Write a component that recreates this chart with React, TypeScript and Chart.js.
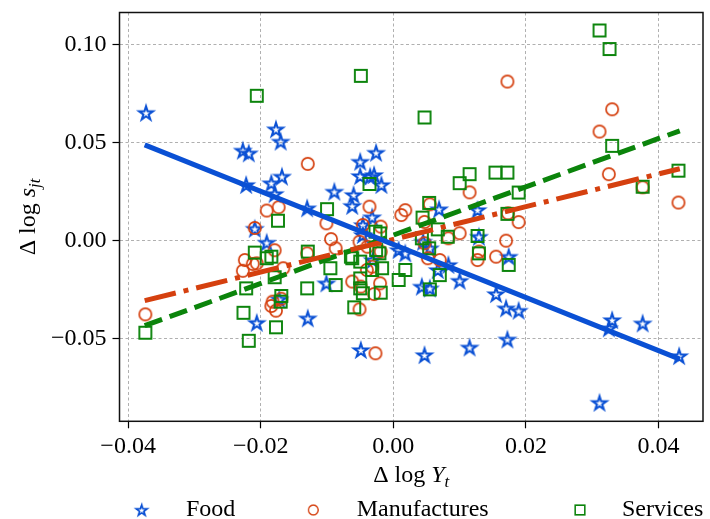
import React, { useEffect, useRef } from 'react';
import { Chart, registerables } from 'chart.js';

Chart.register(...registerables);

// ---------- data ----------
const seriesNames = ['Food', 'Manufactures', 'Services'];
const xTicks = [-0.04, -0.02, 0, 0.02, 0.04];
const yTicks = [-0.05, 0, 0.05, 0.1];
const xRange = [-0.0413, 0.0467];
const yRange = [-0.0925, 0.1166];

const foodX = [-0.0373, -0.0227, -0.0218, -0.0177, -0.017, -0.0222, -0.0184, -0.0168, -0.0179, -0.013, -0.0209, -0.0191, -0.0172, -0.0206, -0.0129, -0.0101, -0.0026, -0.005, -0.005, -0.0035, -0.0029, -0.0018, -0.0089, -0.006, -0.0062, -0.0032, -0.0046, -0.0046, 0.0008, 0.0018, -0.0031, 0.0043, 0.0055, 0.0055, 0.0045, 0.0069, 0.0127, 0.0129, 0.0067, 0.0083, 0.01, 0.0155, -0.0049, 0.0047, 0.0115, 0.0174, 0.017, 0.0189, 0.0172, 0.033, 0.0325, 0.0376, 0.0431, 0.0311];
const foodY = [0.0653, 0.046, 0.0446, 0.0569, 0.0506, 0.0284, 0.0293, 0.0327, 0.0238, 0.0165, 0.006, -0.0011, -0.0301, -0.0421, -0.0398, -0.0219, 0.0449, 0.0403, 0.033, 0.0327, 0.0335, 0.0284, 0.025, 0.0233, 0.0177, 0.0119, 0.0079, 0.0028, -0.0049, -0.0066, -0.01, -0.0236, -0.0245, -0.004, -0.0006, 0.016, 0.0156, 0.0019, -0.0151, -0.0125, -0.0206, -0.0274, -0.056, -0.0586, -0.0547, -0.0083, -0.0347, -0.0359, -0.0506, -0.0407, -0.0449, -0.0424, -0.0591, -0.083];

const manuX = [-0.0374, -0.0129, -0.0191, -0.0173, -0.0209, -0.0101, -0.0036, -0.0019, 0.0012, 0.0018, 0.0055, 0.0047, 0.0115, 0.0172, 0.033, 0.0311, 0.0325, 0.0376, 0.043, 0.0173, 0.0189, -0.0224, -0.0212, -0.0227, -0.0206, -0.0179, -0.0184, -0.0177, -0.0169, -0.0166, -0.013, -0.0094, -0.0087, -0.0062, -0.0051, -0.0027, -0.002, -0.0029, 0.01, 0.0127, 0.0155, 0.017, -0.0051, -0.0039, -0.0019, -0.0032, -0.004, -0.0049, 0.0083, 0.0047, 0.0129, 0.007, 0.0052, -0.0046, -0.0182];
const manuY = [-0.0378, 0.0392, 0.0153, 0.017, 0.0064, 0.0088, 0.0173, 0.0071, 0.013, 0.0155, 0.0185, 0.0095, 0.0246, 0.0813, 0.0671, 0.0557, 0.0339, 0.0272, 0.0194, 0.0139, 0.0094, -0.01, -0.012, -0.0155, -0.0117, -0.005, -0.0335, -0.0359, -0.0298, -0.0142, -0.0066, 0.0007, -0.004, -0.021, -0.0352, -0.0577, -0.0219, -0.0274, 0.0037, -0.01, -0.0083, -0.0001, -0.0006, -0.0032, -0.0057, -0.0134, -0.0151, -0.0236, 0.0011, -0.0014, -0.0057, -0.01, -0.0091, 0.0079, -0.0313];

const servX = [-0.0206, -0.0174, -0.0049, 0.0047, -0.0036, -0.01, 0.0054, 0.0044, 0.01, 0.0115, 0.0154, 0.0311, 0.0326, 0.033, 0.0172, 0.0189, 0.0376, 0.043, 0.0172, -0.0374, -0.0218, -0.0226, -0.0222, -0.0209, -0.0191, -0.0184, -0.0179, -0.0169, -0.017, -0.0177, -0.013, -0.0129, -0.0095, -0.0087, -0.0062, -0.005, -0.005, -0.0046, -0.005, -0.0059, -0.0032, -0.0017, -0.0021, -0.0019, -0.0027, -0.002, 0.0018, 0.0008, 0.0043, 0.0054, 0.0055, 0.007, 0.0082, 0.0127, 0.0129, 0.0174, 0.0067, -0.0026, -0.0064];
const servY = [0.074, 0.0101, 0.0842, 0.0629, 0.0289, 0.016, 0.0192, 0.0117, 0.0293, 0.0339, 0.0347, 0.1074, 0.0979, 0.0484, 0.0347, 0.0245, 0.0275, 0.0357, 0.0136, -0.0472, -0.0513, -0.037, -0.0245, -0.0062, -0.0091, -0.0083, -0.0188, -0.0284, -0.0313, -0.0444, -0.0245, -0.0057, -0.0142, -0.0228, -0.0091, -0.0108, -0.0194, -0.027, -0.0245, -0.0342, -0.0151, -0.0142, -0.0066, -0.0267, 0.0045, 0.0036, -0.0151, -0.0202, 0.0011, -0.004, -0.025, -0.0177, 0.0019, 0.0023, -0.0066, -0.0125, 0.0057, -0.0049, -0.0083];

// fitted lines: endpoints
const fitX = [-0.0375, 0.0432];
const foodFit = [0.0489, -0.0607];
const manuFit = [-0.0308, 0.0367];
const servFit = [-0.0436, 0.0561];

// ---------- styles ----------
const BLUE = '#0a50d4';
const RED = '#d5400f';
const GREEN = '#0b840b';
const FONT = "'Liberation Serif', 'Times New Roman', serif";

function makeMarker(kind: string, color: string): HTMLCanvasElement {
  const s = 22;
  const c = document.createElement('canvas');
  c.width = s;
  c.height = s;
  const g = c.getContext('2d')!;
  g.strokeStyle = color;
  const cx = s / 2, cy = s / 2;
  g.beginPath();
  if (kind === 'star') {
    g.lineWidth = 2.1;
    g.lineJoin = 'miter';
    const R = 7.2, r = R * 0.382;
    for (let i = 0; i < 10; i++) {
      const a = -Math.PI / 2 + (i * Math.PI) / 5;
      const rr = i % 2 === 0 ? R : r;
      const px = cx + rr * Math.cos(a), py = cy + 0.7 + rr * Math.sin(a);
      if (i === 0) g.moveTo(px, py); else g.lineTo(px, py);
    }
    g.closePath();
  } else if (kind === 'circle') {
    g.lineWidth = 1.7;
    g.arc(cx, cy, 6.1, 0, Math.PI * 2);
  } else {
    g.lineWidth = 1.9;
    g.rect(cx - 6, cy - 6, 12, 12);
  }
  g.stroke();
  return c;
}

function fmt(v: number): string {
  const s = Math.abs(v).toFixed(2);
  return (v < -1e-9 ? '\u2212' : '') + s;
}

type Part = { text: string; font: string; dy?: number };

function drawRich(ctx: CanvasRenderingContext2D, parts: Part[], cx: number, baseY: number) {
  let total = 0;
  const widths = parts.map((p) => {
    ctx.font = p.font;
    const w = ctx.measureText(p.text).width;
    total += w;
    return w;
  });
  let x = cx - total / 2;
  ctx.textAlign = 'left';
  ctx.textBaseline = 'alphabetic';
  parts.forEach((p, i) => {
    ctx.font = p.font;
    ctx.fillText(p.text, x, baseY + (p.dy || 0));
    x += widths[i];
  });
}

export default function App() {
  const ref = useRef<HTMLCanvasElement | null>(null);

  useEffect(() => {
    const canvas = ref.current;
    if (!canvas) return;
    const markers = [makeMarker('star', BLUE), makeMarker('circle', RED), makeMarker('square', GREEN)];
    const colors = [BLUE, RED, GREEN];

    const up = `24px ${FONT}`;
    const it = `italic 24px ${FONT}`;
    const sub = `italic 17px ${FONT}`;

    const decor = {
      id: 'decor',
      afterDatasetsDraw(chart: any) {
        const { ctx, chartArea: a } = chart;
        ctx.save();
        ctx.strokeStyle = '#111';
        ctx.lineWidth = 1.5;
        ctx.strokeRect(a.left, a.top, a.right - a.left, a.bottom - a.top);
        ctx.restore();
      },
      afterDraw(chart: any) {
        const { ctx, chartArea: a } = chart;
        ctx.save();
        ctx.fillStyle = '#000';
        // x-axis title
        drawRich(
          ctx,
          [
            { text: '\u0394 log ', font: up },
            { text: 'Y', font: it },
            { text: 't', font: sub, dy: 5 },
          ],
          (a.left + a.right) / 2,
          482
        );
        // y-axis title
        ctx.save();
        ctx.translate(35, (a.top + a.bottom) / 2);
        ctx.rotate(-Math.PI / 2);
        drawRich(
          ctx,
          [
            { text: '\u0394 log ', font: up },
            { text: 's', font: it },
            { text: 'jt', font: sub, dy: 5 },
          ],
          0,
          0
        );
        ctx.restore();
        // legend
        const markerX = [141.7, 313.3, 580];
        const textX = [186, 356.7, 622];
        const ly = 510;
        seriesNames.forEach((name, i) => {
          const m = markers[i];
          const sc = 0.8;
          ctx.drawImage(m, markerX[i] - (m.width * sc) / 2, ly - (m.height * sc) / 2, m.width * sc, m.height * sc);
          ctx.font = up;
          ctx.fillStyle = '#000';
          ctx.textAlign = 'left';
          ctx.textBaseline = 'alphabetic';
          ctx.fillText(name, textX[i], 516);
        });
        ctx.restore();
      },
    };

    const pts = (xs: number[], ys: number[]) => xs.map((x, i) => ({ x, y: ys[i] }));

    const scatterSets = [
      [foodX, foodY],
      [manuX, manuY],
      [servX, servY],
    ].map(([xs, ys], i) => ({
      label: seriesNames[i],
      data: pts(xs, ys),
      pointStyle: markers[i],
      pointRadius: 6,
      borderColor: colors[i],
      backgroundColor: 'transparent',
      showLine: false,
      order: 3 - i,
    }));

    const fits = [foodFit, manuFit, servFit];
    const dashes = [[], [32, 8, 5, 8], [18.5, 8]];
    const lineSets = fits.map((f, i) => ({
      label: seriesNames[i] + ' fit',
      data: pts(fitX, f),
      showLine: true,
      borderColor: colors[i],
      borderWidth: 5,
      borderDash: dashes[i],
      borderCapStyle: 'butt' as const,
      pointRadius: 0,
      fill: false,
      order: 0,
    }));

    const noPad = (s: any) => {
      s.paddingTop = 0;
      s.paddingBottom = 0;
      s.paddingLeft = 0;
      s.paddingRight = 0;
    };

    const chart = new Chart(canvas, {
      type: 'scatter',
      data: { datasets: [...scatterSets, ...lineSets] as any },
      options: {
        responsive: false,
        animation: false,
        events: [],
        layout: { padding: { top: 12.5, right: 5, left: 0, bottom: 0 } },
        plugins: {
          legend: { display: false },
          tooltip: { enabled: false },
          title: { display: false },
        },
        scales: {
          x: {
            type: 'linear',
            min: xRange[0],
            max: xRange[1],
            afterBuildTicks: (s: any) => {
              s.ticks = xTicks.map((v) => ({ value: v }));
            },
            afterFit: (s: any) => {
              s.height = 97.7;
              noPad(s);
            },
            ticks: {
              callback: (v: any) => fmt(Number(v)),
              font: { family: FONT, size: 24 },
              color: '#000',
              padding: 4,
              maxRotation: 0,
              autoSkip: false,
            },
            grid: {
              color: '#b0b0b0',
              lineWidth: 1,
              tickColor: '#000',
              tickLength: 7,
              tickWidth: 1.2,
              tickBorderDash: [],
              drawTicks: true,
            },
            border: { display: false, dash: [3, 2.5] },
          },
          y: {
            type: 'linear',
            min: yRange[0],
            max: yRange[1],
            afterBuildTicks: (s: any) => {
              s.ticks = yTicks.map((v) => ({ value: v }));
            },
            afterFit: (s: any) => {
              s.width = 119.5;
              noPad(s);
            },
            ticks: {
              callback: (v: any) => fmt(Number(v)),
              font: { family: FONT, size: 24 },
              color: '#000',
              padding: 6,
              autoSkip: false,
            },
            grid: {
              color: '#b0b0b0',
              lineWidth: 1,
              tickColor: '#000',
              tickLength: 7,
              tickWidth: 1.2,
              tickBorderDash: [],
              drawTicks: true,
            },
            border: { display: false, dash: [3, 2.5] },
          },
        },
      },
      plugins: [decor],
    });

    return () => {
      chart.destroy();
    };
  }, []);

  return (
    <div style={{ position: 'fixed', left: 0, top: 0, width: 710, height: 519, background: '#fff' }}>
      <canvas ref={ref} width={710} height={519} style={{ display: 'block', width: 710, height: 519 }} />
    </div>
  );
}
